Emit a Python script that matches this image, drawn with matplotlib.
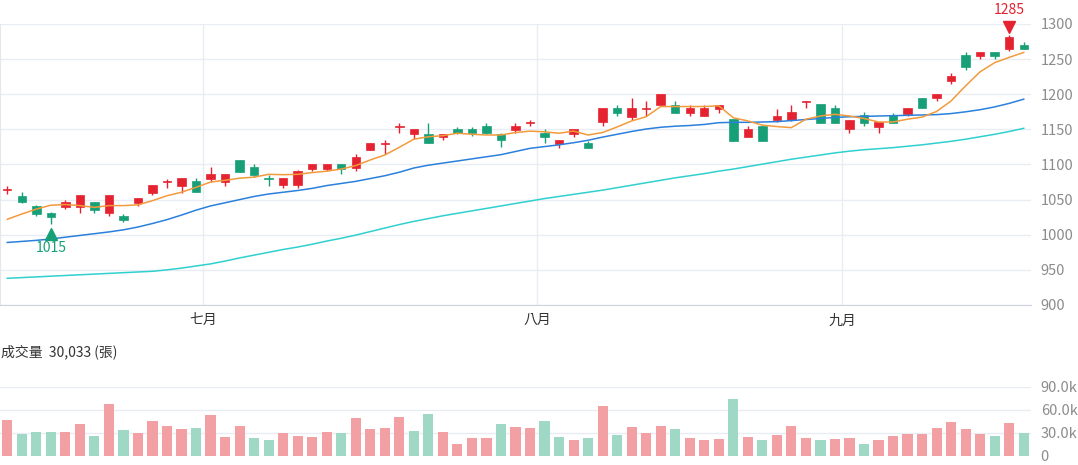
import numpy as np
import matplotlib.pyplot as plt
from matplotlib.ticker import FuncFormatter
from matplotlib.transforms import offset_copy

plt.rcParams['font.family'] = ['Noto Sans CJK TC', 'DejaVu Sans']

# daily candles (open, high, low, close)
opens = [1064, 1055, 1041, 1031, 1040, 1040, 1046, 1031, 1027, 1045,
         1060, 1075, 1070, 1077, 1080, 1075, 1106, 1097, 1081, 1071,
         1071, 1094, 1094, 1101, 1095, 1120, 1129, 1154, 1144, 1144,
         1139, 1150, 1150, 1155, 1144, 1149, 1159, 1145, 1129, 1144,
         1130, 1160, 1180, 1168, 1179, 1185, 1185, 1174, 1169, 1179,
         1165, 1139, 1155, 1163, 1164, 1189, 1186, 1181, 1150, 1170,
         1154, 1170, 1172, 1195, 1194, 1219, 1256, 1255, 1260, 1264, 1270]
highs = [1070, 1061, 1042, 1032, 1050, 1057, 1047, 1056, 1030, 1052,
         1071, 1080, 1081, 1081, 1096, 1087, 1106, 1101, 1085, 1081,
         1092, 1101, 1101, 1101, 1115, 1130, 1135, 1159, 1150, 1159,
         1144, 1154, 1154, 1159, 1145, 1159, 1164, 1150, 1135, 1150,
         1133, 1180, 1185, 1194, 1190, 1201, 1190, 1185, 1185, 1185,
         1165, 1155, 1155, 1179, 1185, 1190, 1186, 1185, 1164, 1175,
         1160, 1174, 1180, 1195, 1200, 1230, 1260, 1260, 1260, 1285, 1275]
lows = [1058, 1045, 1026, 1015, 1036, 1031, 1031, 1027, 1018, 1041,
        1056, 1066, 1060, 1061, 1075, 1070, 1090, 1082, 1070, 1066,
        1066, 1091, 1091, 1086, 1091, 1120, 1115, 1145, 1136, 1130,
        1135, 1144, 1140, 1144, 1125, 1145, 1155, 1130, 1124, 1139,
        1124, 1155, 1169, 1164, 1169, 1185, 1174, 1169, 1169, 1174,
        1134, 1139, 1134, 1160, 1162, 1180, 1159, 1159, 1145, 1155,
        1145, 1159, 1169, 1180, 1190, 1215, 1235, 1250, 1250, 1261, 1264]
closes = [1065, 1046, 1030, 1025, 1046, 1056, 1035, 1056, 1021, 1052,
          1071, 1076, 1081, 1061, 1087, 1087, 1090, 1085, 1080, 1081,
          1091, 1101, 1101, 1094, 1111, 1130, 1130, 1155, 1150, 1130,
          1144, 1145, 1145, 1145, 1135, 1155, 1160, 1139, 1135, 1150,
          1124, 1180, 1174, 1180, 1180, 1201, 1174, 1180, 1180, 1185,
          1134, 1150, 1134, 1169, 1175, 1190, 1159, 1159, 1164, 1159,
          1160, 1159, 1180, 1180, 1200, 1226, 1239, 1260, 1255, 1281, 1264]

# moving averages
ma5 = [1022, 1029.5, 1036.5, 1042, 1043, 1041.5, 1039, 1041.5, 1041.5, 1042.5,
       1048.5, 1055.5, 1060.5, 1067.5, 1075, 1077.5, 1080.5, 1082, 1086, 1085.5,
       1086, 1088.5, 1090.5, 1093.5, 1098.5, 1106.5, 1113.5, 1124.5, 1136, 1139.5,
       1141, 1144.5, 1143, 1142, 1142, 1145.5, 1147.5, 1146.5, 1144.5, 1147.5,
       1142, 1145.5, 1153.5, 1162, 1168, 1182.5, 1182.5, 1182.5, 1182.5, 1183.5,
       1166.5, 1162, 1156, 1154, 1152.5, 1164.5, 1169, 1171.5, 1169, 1165.5,
       1160.5, 1160.5, 1164.5, 1167.5, 1175.5, 1190.5, 1212, 1232, 1245, 1252.5, 1259.5]
ma20 = [989, 990.5, 992, 994, 996.5, 999, 1001.5, 1004, 1007, 1011,
        1016, 1021.5, 1028, 1035, 1041, 1045.5, 1050, 1054.5, 1058, 1060.5,
        1063, 1066, 1070, 1073, 1076, 1080, 1084, 1089, 1095, 1099,
        1102, 1105, 1108, 1111, 1114, 1118.5, 1123, 1125.5, 1128, 1131,
        1134.5, 1139, 1143, 1147, 1150.5, 1153, 1154.5, 1155.5, 1157, 1159.5,
        1160, 1160, 1160.5, 1161, 1162.5, 1164, 1165.5, 1167, 1168, 1168.5,
        1169, 1169.5, 1170, 1170.5, 1171, 1172.5, 1175, 1178, 1182, 1187, 1193]
ma60 = [938, 939, 940, 941, 942, 943, 944, 945, 946, 947,
        948, 950, 952.5, 955.5, 958.5, 962.5, 967, 971, 975, 979,
        982.5, 986.5, 991, 995, 999.5, 1004.5, 1009.5, 1014.5, 1019, 1023,
        1027, 1030.5, 1034, 1037.5, 1041, 1044.5, 1048, 1051.5, 1054.5, 1057.5,
        1060.5, 1063.5, 1067, 1070.5, 1074, 1077.5, 1081, 1084, 1087, 1090.5,
        1093.5, 1097, 1100.5, 1104, 1107.5, 1110.5, 1113.5, 1116.5, 1119, 1121,
        1122.5, 1124, 1126, 1128, 1130.5, 1133, 1136, 1139.5, 1143, 1147, 1151.5]

# volume in 張, and whether the bar is drawn red (1) or green (0)
volume = [46300, 28700, 31800, 31800, 31300, 41900, 25600, 67500, 34000, 30400,
          45000, 39700, 35300, 36200, 53400, 24700, 39700, 23800, 20300, 30000,
          26000, 24300, 30900, 30400, 49900, 34900, 37100, 50700, 32600, 55100,
          31800, 15900, 22900, 22900, 41500, 37500, 36200, 45900, 25100, 20700,
          23800, 65300, 27400, 37500, 30000, 39700, 35300, 23800, 21200, 22500,
          73700, 25100, 20300, 27400, 39700, 23800, 21200, 22100, 22900, 15000,
          20300, 25600, 28200, 28700, 36200, 44100, 35300, 28700, 26000, 42800, 30033]
vol_up = [1, 0, 0, 0, 1, 1, 0, 1, 0, 1,
          1, 1, 1, 0, 1, 1, 1, 0, 0, 1,
          1, 1, 1, 0, 1, 1, 1, 1, 0, 0,
          1, 1, 1, 1, 0, 1, 1, 0, 0, 1,
          0, 1, 0, 1, 1, 1, 0, 1, 1, 1,
          0, 1, 0, 1, 1, 1, 0, 1, 1, 0,
          1, 1, 1, 1, 1, 1, 1, 1, 0, 1, 0]

month_pos = [13.5, 36.5, 57.5]
month_labels = ['七月', '八月', '九月']
price_ticks = [900, 950, 1000, 1050, 1100, 1150, 1200, 1250, 1300]
vol_ticks = [0, 30000, 60000, 90000]

RED = '#e5222f'
GREEN = '#17a077'
RED_V = '#f3a0a5'
GREEN_V = '#9fd8c4'
GRID = '#e9ecf2'
TXT = '#8c8c8c'

x = np.arange(len(opens))
o = np.array(opens, float)
c = np.array(closes, float)
up = c >= o
cols = [RED if u else GREEN for u in up]

fig = plt.figure(figsize=(10.78, 4.65), dpi=100)
ax = fig.add_axes([0, 0.3441, 0.9564, 0.6043])
axv = fig.add_axes([0, 0.0194, 0.9564, 0.1484])

# candles
ax.vlines(x, lows, highs, colors=cols, lw=1, zorder=3)
body_h = np.maximum(np.abs(c - o), 1.2)
ax.bar(x, body_h, bottom=np.minimum(o, c), width=0.58, color=cols,
       edgecolor=cols, lw=0.5, zorder=3)

ax.plot(x, ma60, color='#2fd0cf', lw=1.1, zorder=4)
ax.plot(x, ma20, color='#2a80dc', lw=1.1, zorder=4)
ax.plot(x, ma5, color='#f39a3c', lw=1.1, zorder=4)

# min / max markers
i_lo = int(np.argmin(lows))
i_hi = int(np.argmax(highs))
ax.plot(i_lo, lows[i_lo], marker='^', ms=9, color=GREEN, clip_on=False, zorder=5,
        transform=offset_copy(ax.transData, fig, x=0, y=-10, units='dots'))
ax.text(i_lo, lows[i_lo], str(lows[i_lo]), color=GREEN, fontsize=10, ha='center',
        va='center', transform=offset_copy(ax.transData, fig, x=0, y=-24, units='dots'))
ax.plot(i_hi, highs[i_hi], marker='v', ms=9, color=RED, clip_on=False, zorder=5,
        transform=offset_copy(ax.transData, fig, x=0, y=8, units='dots'))
ax.text(i_hi, highs[i_hi], str(highs[i_hi]), color=RED, fontsize=10, ha='center',
        va='center', clip_on=False,
        transform=offset_copy(ax.transData, fig, x=0, y=25, units='dots'))

ax.set_xlim(-0.5, len(x) - 0.5)
ax.set_ylim(900, 1300)
ax.set_yticks(price_ticks)
ax.yaxis.tick_right()
ax.set_xticks(month_pos)
ax.set_xticklabels(month_labels, color='#333333', fontsize=10)
ax.tick_params(axis='y', length=0, pad=7, labelsize=10.5, labelcolor=TXT)
ax.tick_params(axis='x', length=0, pad=6)
ax.grid(True, color=GRID, lw=1)
ax.set_axisbelow(True)
for s in ['top', 'right']:
    ax.spines[s].set_visible(False)
ax.spines['left'].set_color('#e3e6ee')
ax.spines['bottom'].set_color('#cdd3df')

# volume
vcols = [RED_V if u else GREEN_V for u in vol_up]
axv.bar(x, volume, width=0.7, color=vcols, zorder=3)
axv.set_xlim(-0.5, len(x) - 0.5)
axv.set_ylim(0, 90000)
axv.set_yticks(vol_ticks)
axv.yaxis.tick_right()
axv.yaxis.set_major_formatter(FuncFormatter(lambda v, p: '0' if v == 0 else f'{v / 1000:.1f}k'))
axv.tick_params(axis='y', length=0, pad=7, labelsize=10.5, labelcolor=TXT)
axv.set_xticks([])
axv.grid(True, axis='y', color=GRID, lw=1)
axv.set_axisbelow(True)
for s in axv.spines.values():
    s.set_visible(False)

fig.text(0.001, 0.243, f'成交量  {volume[-1]:,} (張)', fontsize=10, color='#333333',
         ha='left', va='center')

fig.savefig('out.png', dpi=100)
